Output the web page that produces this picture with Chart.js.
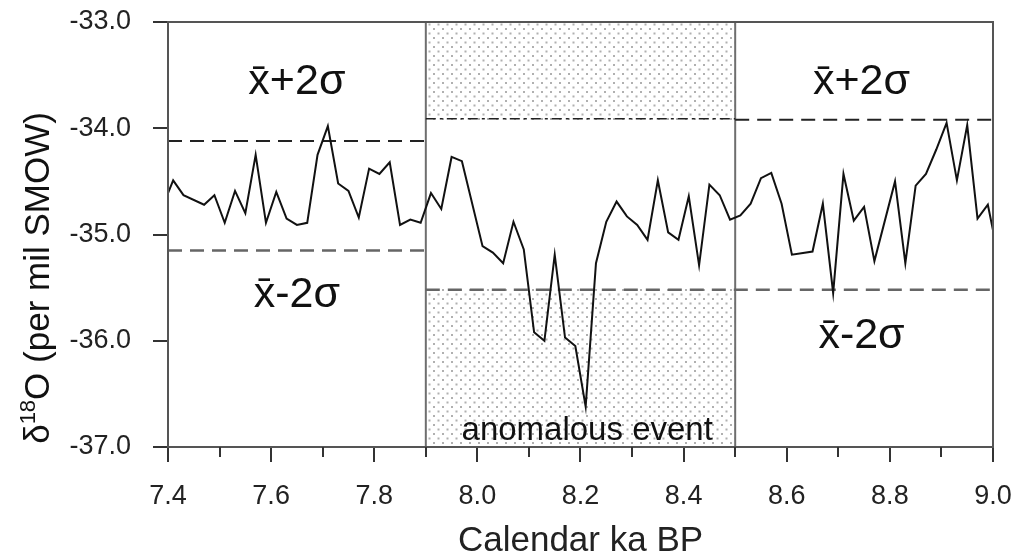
<!DOCTYPE html>
<html>
<head>
<meta charset="utf-8">
<script src="https://cdn.jsdelivr.net/npm/chart.js@4"></script>
<style>
  html, body { margin: 0; padding: 0; background: #fff; }
  #wrap { width: 1016px; height: 559px; }
</style>
</head>
<body>
<div id="wrap"><canvas id="chart" width="1016" height="559"></canvas></div>
<script>
// ---- data ----
const ageKa = [7.40, 7.41, 7.43, 7.47, 7.49, 7.51, 7.53, 7.55, 7.57, 7.59, 7.61, 7.63, 7.65, 7.67, 7.69,
  7.71, 7.73, 7.75, 7.77, 7.79, 7.81, 7.83, 7.85, 7.87, 7.89, 7.91, 7.93, 7.95, 7.97, 8.01,
  8.03, 8.05, 8.07, 8.09, 8.11, 8.13, 8.15, 8.17, 8.19, 8.21, 8.23, 8.25, 8.27, 8.29, 8.31,
  8.33, 8.35, 8.37, 8.39, 8.41, 8.43, 8.45, 8.47, 8.49, 8.51, 8.53, 8.55, 8.57, 8.59, 8.61,
  8.65, 8.67, 8.69, 8.71, 8.73, 8.75, 8.77, 8.81, 8.83, 8.85, 8.87, 8.89, 8.91, 8.93, 8.95,
  8.97, 8.99, 9.00];
const d18O = [-34.61, -34.49, -34.63, -34.72, -34.63, -34.89, -34.59, -34.80, -34.25, -34.89, -34.60, -34.85, -34.91, -34.89, -34.25,
  -33.98, -34.52, -34.59, -34.84, -34.38, -34.43, -34.32, -34.91, -34.86, -34.89, -34.61, -34.76, -34.27, -34.31, -35.11,
  -35.17, -35.27, -34.88, -35.14, -35.92, -36.00, -35.19, -35.97, -36.05, -36.62, -35.27, -34.88, -34.69, -34.83, -34.91,
  -35.05, -34.49, -34.98, -35.05, -34.64, -35.29, -34.53, -34.63, -34.86, -34.82, -34.71, -34.47, -34.42, -34.71, -35.19,
  -35.16, -34.71, -35.55, -34.43, -34.87, -34.74, -35.25, -34.50, -35.27, -34.54, -34.43, -34.20, -33.95, -34.49, -33.97,
  -34.85, -34.72, -34.96];

// mean +/- 2 sigma levels (before / during / after the event)
const sigmaBefore = [-34.12, -35.15];
const sigmaEvent = [-33.91, -35.52];
const sigmaAfter = [-33.92, -35.52];
// the anomalous event window, ka BP
const eventWindow = [7.9, 8.5];

const xRange = [7.4, 9.0];
const yRange = [-37, -33];

const FONT = '"Liberation Sans", Arial, Helvetica, sans-serif';

const points = ageKa.map((a, i) => ({ x: a, y: d18O[i] }));
function hline(x0, x1, y) { return [{ x: x0, y: y }, { x: x1, y: y }]; }

// stippled fill
function dotPattern(ctx) {
  const c = document.createElement('canvas');
  c.width = 9; c.height = 9;
  const g = c.getContext('2d');
  g.fillStyle = '#fff';
  g.fillRect(0, 0, 9, 9);
  g.fillStyle = '#b0b0b0';
  g.fillRect(1, 1, 2, 2);
  g.fillRect(5.5, 5.5, 2, 2);
  return ctx.createPattern(c, 'repeat');
}

const decor = {
  id: 'decor',
  beforeDatasetsDraw(chart) {
    const { ctx, chartArea: ca, scales: { x, y } } = chart;
    const xa = x.getPixelForValue(eventWindow[0]);
    const xb = x.getPixelForValue(eventWindow[1]);
    ctx.save();
    ctx.fillStyle = dotPattern(ctx);
    ctx.fillRect(xa, ca.top, xb - xa, ca.bottom - ca.top);
    ctx.fillStyle = '#fff';
    const yt = y.getPixelForValue(sigmaEvent[0]);
    const yb = y.getPixelForValue(sigmaEvent[1]);
    ctx.fillRect(xa, yt + 2, xb - xa, yb - yt - 4);
    // event boundaries
    ctx.strokeStyle = '#6e6e6e';
    ctx.lineWidth = 2;
    [xa, xb].forEach(px => {
      ctx.beginPath();
      ctx.moveTo(px, ca.top);
      ctx.lineTo(px, ca.bottom);
      ctx.stroke();
    });
    ctx.restore();
  },
  afterDraw(chart) {
    const { ctx, chartArea: ca, scales: { x, y } } = chart;
    ctx.save();
    // frame
    ctx.strokeStyle = '#555';
    ctx.lineWidth = 2;
    ctx.strokeRect(ca.left, ca.top, ca.right - ca.left, ca.bottom - ca.top);

    // minor ticks on x
    ctx.strokeStyle = '#333';
    ctx.lineWidth = 2;
    for (let v = 7.5; v < 9.0; v += 0.2) {
      const px = Math.round(x.getPixelForValue(v));
      ctx.beginPath();
      ctx.moveTo(px, ca.bottom);
      ctx.lineTo(px, ca.bottom + 10);
      ctx.stroke();
    }

    // sigma labels
    ctx.fillStyle = '#111';
    ctx.textAlign = 'center';
    ctx.textBaseline = 'alphabetic';
    ctx.font = '43px ' + FONT;
    ctx.fillText('x\u0304+2\u03C3', x.getPixelForValue(7.65), y.getPixelForValue(-33.68));
    ctx.fillText('x\u0304-2\u03C3', x.getPixelForValue(7.65), y.getPixelForValue(-35.68));
    ctx.fillText('x\u0304+2\u03C3', x.getPixelForValue(8.745), y.getPixelForValue(-33.68));
    ctx.fillText('x\u0304-2\u03C3', x.getPixelForValue(8.745), y.getPixelForValue(-36.07));

    ctx.font = '33px ' + FONT;
    ctx.fillText('anomalous event', x.getPixelForValue(8.213), y.getPixelForValue(-36.93));

    // y axis title with superscript
    ctx.translate(37, 278);
    ctx.rotate(-Math.PI / 2);
    ctx.textAlign = 'left';
    const big = '35px ' + FONT, small = '22px ' + FONT;
    ctx.font = big;
    const w1 = ctx.measureText('\u03B4').width;
    const w3 = ctx.measureText('O (per mil SMOW)').width;
    ctx.font = small;
    const w2 = ctx.measureText('18').width;
    let sx = -(w1 + w2 + w3) / 2;
    ctx.font = big;
    ctx.fillText('\u03B4', sx, 12);
    sx += w1;
    ctx.font = small;
    ctx.fillText('18', sx, -2);
    sx += w2;
    ctx.font = big;
    ctx.fillText('O (per mil SMOW)', sx, 12);
    ctx.restore();
  }
};

new Chart(document.getElementById('chart'), {
  type: 'scatter',
  data: {
    datasets: [
      { data: points, showLine: true, borderColor: '#111', borderWidth: 2, pointRadius: 0, tension: 0 },
      { data: hline(xRange[0], eventWindow[0], sigmaBefore[0]), showLine: true, borderColor: '#222', borderWidth: 2, borderDash: [14, 8], pointRadius: 0 },
      { data: hline(xRange[0], eventWindow[0], sigmaBefore[1]), showLine: true, borderColor: '#666', borderWidth: 2.5, borderDash: [14, 8], pointRadius: 0 },
      { data: hline(eventWindow[0], eventWindow[1], sigmaEvent[0]), showLine: true, borderColor: '#222', borderWidth: 1.5, borderDash: [10, 4, 3, 4], pointRadius: 0 },
      { data: hline(eventWindow[0], xRange[1], sigmaEvent[1]), showLine: true, borderColor: '#666', borderWidth: 2.5, borderDash: [14, 8], pointRadius: 0 },
      { data: hline(eventWindow[1], xRange[1], sigmaAfter[0]), showLine: true, borderColor: '#222', borderWidth: 2, borderDash: [14, 8], pointRadius: 0 }
    ]
  },
  options: {
    responsive: false,
    animation: false,
    layout: { autoPadding: false, padding: { top: 22, right: 23, left: 0, bottom: 0 } },
    plugins: { legend: { display: false }, tooltip: { enabled: false } },
    scales: {
      x: {
        type: 'linear',
        min: xRange[0], max: xRange[1],
        border: { display: false },
        grid: { drawOnChartArea: false, drawTicks: true, tickLength: 15, color: '#333', lineWidth: 2 },
        ticks: { stepSize: 0.2, padding: 18, color: '#222', font: { family: FONT, size: 27 }, maxRotation: 0,
          callback: v => Number(v).toFixed(1) },
        title: { display: true, text: 'Calendar ka BP', color: '#222', font: { family: FONT, size: 35, lineHeight: 1.0 }, padding: { top: 0, bottom: 0 } },
        afterFit: s => { s.height = 112; s.paddingLeft = 0; s.paddingRight = 0; }
      },
      y: {
        min: yRange[0], max: yRange[1],
        border: { display: false },
        grid: { drawOnChartArea: false, drawTicks: true, tickLength: 15, color: '#333', lineWidth: 2 },
        ticks: { stepSize: 1, padding: 22, color: '#222', font: { family: FONT, size: 27 },
          callback: v => Number(v).toFixed(1) },
        afterFit: s => { s.width = 168; s.paddingTop = 0; s.paddingBottom = 0; }
      }
    }
  },
  plugins: [decor]
});
</script>
</body>
</html>
